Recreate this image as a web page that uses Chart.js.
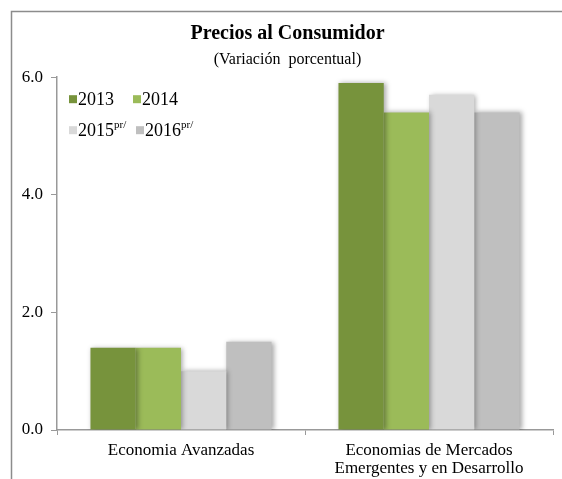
<!DOCTYPE html>
<html>
<head>
<meta charset="utf-8">
<script src="https://cdn.jsdelivr.net/npm/chart.js@4.4.0/dist/chart.umd.min.js"></script>
<style>
  html, body { margin: 0; padding: 0; background: #fff; }
  #wrap { width: 562px; height: 479px; }
</style>
</head>
<body>
<div id="wrap"><canvas id="myChart" width="562" height="479"></canvas></div>
<script>
// data
let categories = [
    'Economia Avanzadas',
    ['Economias de Mercados', 'Emergentes y en Desarrollo']
];
let years = ['2013', '2014', '2015', '2016'];
let yearNotes = ['', '', 'pr/', 'pr/'];
let values2013 = [1.4, 5.9];
let values2014 = [1.4, 5.4];
let values2015 = [1.0, 5.7];
let values2016 = [1.5, 5.4];
let yTicks = [0, 2, 4, 6];

let colors = [
    '#77933C',
    '#9BBB59',
    '#D9D9D9',
    '#BFBFBF'
];

const serif = "'Liberation Serif', 'Times New Roman', serif";

// frame + white background
const framePlugin = {
    id: 'frame',
    beforeDraw(chart) {
        let c = chart.ctx;
        c.save();
        c.fillStyle = '#fff';
        c.fillRect(0, 0, chart.width, chart.height);
        c.strokeStyle = '#8c8c8c';
        c.lineWidth = 1.5;
        c.beginPath();
        c.moveTo(11.5, chart.height);
        c.lineTo(11.5, 11.5);
        c.lineTo(chart.width, 11.5);
        c.stroke();
        c.restore();
    }
};

// soft shadow under the bars
const shadowPlugin = {
    id: 'barShadow',
    beforeDatasetDraw(chart) {
        let c = chart.ctx;
        c.save();
        c.shadowColor = 'rgba(0,0,0,0.35)';
        c.shadowBlur = 5;
        c.shadowOffsetX = 2;
        c.shadowOffsetY = 0;
    },
    afterDatasetDraw(chart) {
        chart.ctx.restore();
    }
};

// legend in 2x2 with superscripts
const legendPlugin = {
    id: 'gridLegend',
    afterDraw(chart) {
        let c = chart.ctx;
        let left = chart.chartArea.left + 12;
        let top = chart.chartArea.top + 22;
        c.save();
        chart.data.datasets.forEach(function(ds, i) {
            let col = i % 2;
            let row = Math.floor(i / 2);
            let x = left + col * 64 + (row == 1 && col == 1 ? 3 : 0);
            let y = top + row * 31;
            c.fillStyle = ds.backgroundColor;
            c.fillRect(x, y - 4, 8, 8);
            c.fillStyle = '#000';
            c.font = '18px ' + serif;
            c.textBaseline = 'middle';
            c.textAlign = 'left';
            c.fillText(ds.label, x + 9, y + 1);
            let w = c.measureText(ds.label).width;
            if (yearNotes[i]) {
                c.font = '11px ' + serif;
                c.fillText(yearNotes[i], x + 9 + w, y - 5);
            }
        });
        c.restore();
    }
};

let allValues = [values2013, values2014, values2015, values2016];

var ctx = document.getElementById('myChart').getContext('2d');
var chart = new Chart(ctx, {
    type: 'bar',
    data: {
        labels: categories,
        datasets: years.map(function(y, i) {
            return {
                label: y,
                data: allValues[i],
                backgroundColor: colors[i],
                borderWidth: 0,
                categoryPercentage: 0.73,
                barPercentage: 1.0
            };
        })
    },
    options: {
        responsive: false,
        animation: false,
        layout: { padding: { left: 22, right: 9, top: 0, bottom: 0 } },
        plugins: {
            legend: { display: false },
            tooltip: { enabled: false },
            title: {
                display: true,
                text: 'Precios al Consumidor',
                color: '#000',
                font: { family: serif, size: 20, weight: 'bold', lineHeight: 1.2 },
                padding: { top: 22, bottom: 4 }
            },
            subtitle: {
                display: true,
                text: '(Variación  porcentual)',
                color: '#000',
                font: { family: serif, size: 16, lineHeight: 1.2 },
                padding: { top: 0, bottom: 8 }
            }
        },
        scales: {
            x: {
                offset: true,
                grid: {
                    offset: true,
                    drawOnChartArea: false,
                    drawTicks: true,
                    tickLength: 5,
                    color: '#999'
                },
                border: { display: true, color: '#999', width: 1.5 },
                ticks: {
                    color: '#000',
                    padding: 7,
                    maxRotation: 0,
                    font: { family: serif, size: 17, lineHeight: 1.06 }
                },
                afterFit(scale) { scale.height = 49; }
            },
            y: {
                min: 0,
                max: 6,
                afterBuildTicks(scale) {
                    scale.ticks = yTicks.map(function(v) { return { value: v }; });
                },
                grid: {
                    drawOnChartArea: false,
                    drawTicks: true,
                    tickLength: 6,
                    color: '#999'
                },
                border: { display: true, color: '#999', width: 1.5 },
                ticks: {
                    color: '#000',
                    padding: 8,
                    font: { family: serif, size: 17 },
                    callback: function(v) { return v.toFixed(1); }
                },
                afterFit(scale) { scale.width = 35; }
            }
        }
    },
    plugins: [framePlugin, shadowPlugin, legendPlugin]
});
</script>
</body>
</html>
